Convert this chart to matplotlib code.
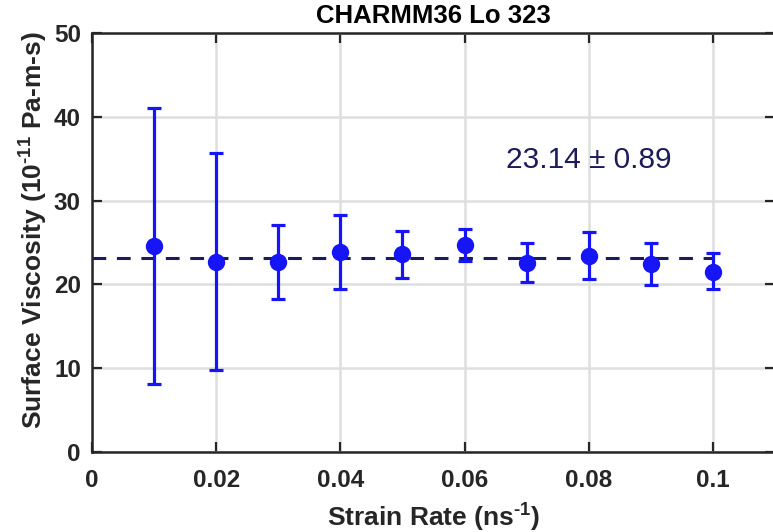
import matplotlib.pyplot as plt
import numpy as np

plt.rcParams["font.family"] = ["Liberation Sans", "DejaVu Sans"]
plt.rcParams["mathtext.fontset"] = "custom"
plt.rcParams["mathtext.rm"] = "Liberation Sans"
plt.rcParams["mathtext.bf"] = "Liberation Sans:bold"

# surface viscosity vs strain rate, units of 1e-11 Pa-m-s
strain_rate = [0.01, 0.02, 0.03, 0.04, 0.05, 0.06, 0.07, 0.08, 0.09, 0.10]
viscosity = [24.6, 22.7, 22.7, 23.9, 23.6, 24.7, 22.6, 23.4, 22.4, 21.5]
err_low = [16.5, 12.9, 4.4, 4.45, 2.8, 1.9, 2.3, 2.7, 2.5, 2.1]
err_high = [16.5, 13.0, 4.4, 4.4, 2.8, 1.9, 2.3, 2.8, 2.5, 2.2]
mean_visc = 23.14
mean_err = 0.89

blue = "#1515f5"
navy = "#1c1c5c"
axis_col = "#262626"

fig = plt.figure(figsize=(7.73, 5.32), dpi=100)
ax = fig.add_axes([92 / 773, 80 / 532, 683 / 773, 419 / 532])

ax.grid(True, color="#dedede", linewidth=1.8, zorder=0)
ax.set_axisbelow(True)

ax.plot([0, strain_rate[-1]], [mean_visc, mean_visc], linestyle=(0, (4.5, 3.5)),
        color=navy, linewidth=2.2, zorder=2)
ax.errorbar(strain_rate, viscosity, yerr=[err_low, err_high], fmt="o",
            color=blue, markersize=11.5, elinewidth=2.3, capsize=5,
            capthick=2.3, zorder=3)

ax.text(0.08, 34.8, f"{mean_visc:.2f} ± {mean_err:.2f}", color=navy,
        fontsize=21.5, ha="center", va="center")

ax.set_xlim(0, 0.11)
ax.set_ylim(0, 50)
ax.set_xticks([0, 0.02, 0.04, 0.06, 0.08, 0.1])
ax.set_xticklabels(["0", "0.02", "0.04", "0.06", "0.08", "0.1"])
ax.set_yticks(np.arange(0, 51, 10))

ax.tick_params(direction="in", length=7, width=1.6, color=axis_col,
               labelsize=17.5, labelcolor=axis_col, top=True, right=True)
ax.tick_params(axis="x", pad=12)
ax.tick_params(axis="y", pad=8)
for lbl in ax.get_xticklabels() + ax.get_yticklabels():
    lbl.set_fontweight("bold")
for sp in ax.spines.values():
    sp.set_color(axis_col)
    sp.set_linewidth(1.8)

ax.set_xlabel("Strain Rate (ns$^{\\mathbf{\u2010 1}}$)", fontsize=19,
              fontweight="bold", color=axis_col, labelpad=6)
ax.set_ylabel("Surface Viscosity (10$^{\\mathbf{\u201011}}$ Pa-m-s)",
              fontsize=19, fontweight="bold", color=axis_col)
ax.yaxis.set_label_coords(-0.063, 0.53)
ax.set_title("CHARMM36 Lo 323", fontsize=18.5, fontweight="bold",
             color="black", pad=7)

fig.savefig("out.png", dpi=100)
